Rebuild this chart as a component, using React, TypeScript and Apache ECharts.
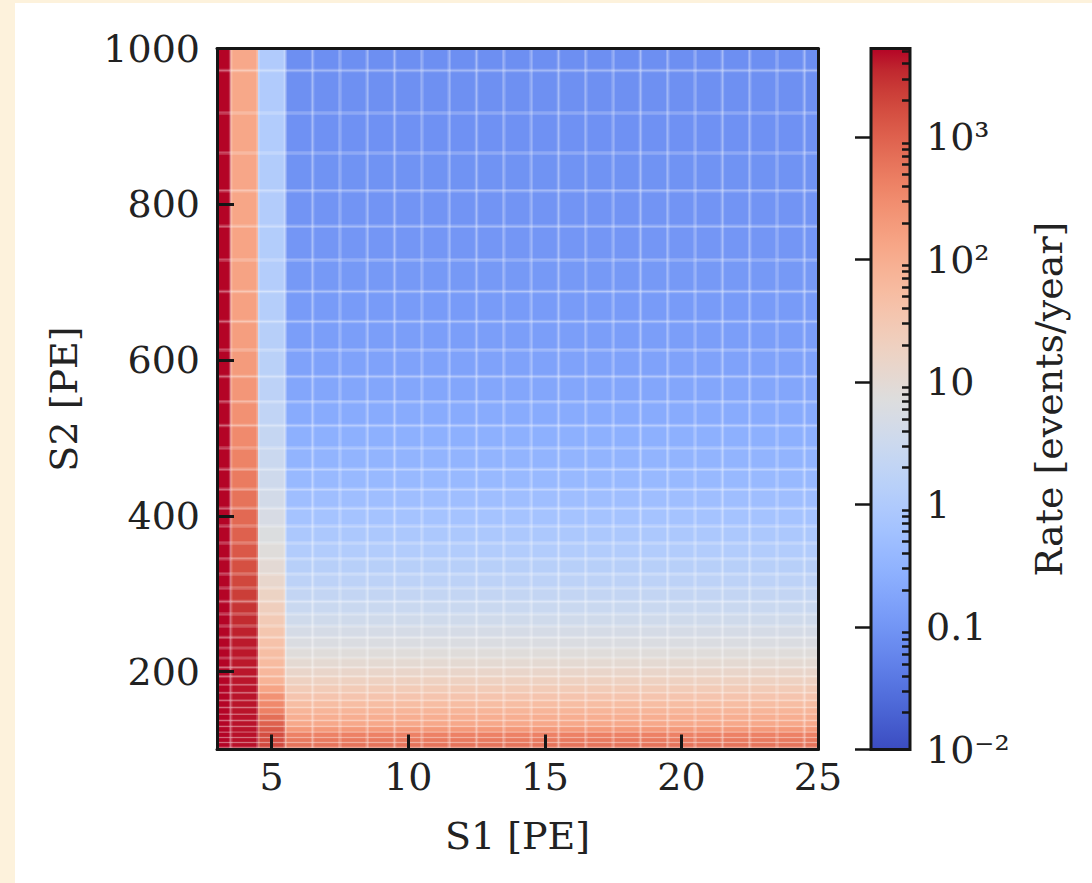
import React, { useEffect, useRef } from 'react';
import * as echarts from 'echarts';

// ---------------- data ----------------
const s1Centers = [3, 4, 5, 6, 7, 8, 9, 10, 11, 12, 13, 14, 15, 16, 17, 18, 19, 20, 21, 22, 23, 24, 25];

const s2Centers = [
  100, 105.93, 112.2, 118.85, 125.89, 133.35, 141.25, 149.62, 158.49, 167.88,
  177.83, 188.36, 199.53, 211.35, 223.87, 237.14, 251.19, 266.07, 281.84, 298.54,
  316.23, 334.97, 354.81, 375.84, 398.11, 421.7, 446.68, 473.15, 501.19, 530.88,
  562.34, 595.66, 630.96, 668.34, 707.95, 749.89, 794.33, 841.4, 891.25, 944.06, 1000,
];

// rate [events/year] per S2 row (bottom -> top) for each S1 column
const rateS1_3 = [
  9400, 9300, 9100, 9000, 8900, 8700, 8600, 8500, 8300, 8200,
  8100, 8000, 7900, 7700, 7600, 7500, 7400, 7300, 7200, 7100,
  7000, 6900, 6800, 6700, 6600, 6500, 6400, 6300, 6300, 6200,
  6100, 6000, 6000, 5900, 5900, 5800, 5800, 5700, 5700, 5600, 5600,
];
const rateS1_4 = [
  4600, 4600, 4600, 4600, 4500, 4500, 4500, 4400, 4400, 4400,
  4400, 4300, 4300, 4200, 4200, 4100, 3800, 3300, 2800, 2300,
  1900, 1550, 1250, 1000, 800, 630, 500, 400, 320, 260,
  220, 190, 170, 155, 145, 137, 132, 128, 125, 122, 120,
];
const rateS1_5 = [
  1800, 1800, 1700, 1600, 1300, 1000, 700, 420, 330, 250,
  140, 80, 66, 58, 50, 42, 35, 28, 22, 17,
  13, 10, 8.2, 6.6, 5.3, 4.3, 3.5, 2.9, 2.4, 2.0,
  1.7, 1.5, 1.35, 1.25, 1.2, 1.15, 1.12, 1.1, 1.08, 1.05, 1.05,
];
// columns S1 = 6 ... 25 share the same S2 profile
const rateS1_6to25 = [
  650, 600, 520, 420, 200, 120, 95, 72, 52, 37,
  27, 19, 14, 10.5, 8, 6.2, 4.8, 3.7, 2.8, 2.2,
  1.7, 1.35, 1.08, 0.85, 0.66, 0.52, 0.41, 0.33, 0.27, 0.22,
  0.185, 0.16, 0.14, 0.125, 0.113, 0.104, 0.097, 0.092, 0.088, 0.085, 0.082,
];

const xTicks = [5, 10, 15, 20, 25];
const yTicks = [200, 400, 600, 800, 1000];
const cbMin = 0.01;
const cbMax = 5300;
const cbMajorTicks = [0.01, 0.1, 1, 10, 100, 1000];
const cbMajorLabels = ['10⁻²', '0.1', '1', '10', '10²', '10³'];
const cbMinorTicks = [
  0.02, 0.03, 0.04, 0.05, 0.06, 0.07, 0.08, 0.09,
  0.2, 0.3, 0.4, 0.5, 0.6, 0.7, 0.8, 0.9,
  2, 3, 4, 5, 6, 7, 8, 9,
  20, 30, 40, 50, 60, 70, 80, 90,
  200, 300, 400, 500, 600, 700, 800, 900,
  2000, 3000, 4000, 5000,
];

// matplotlib "coolwarm" colormap (33 evenly spaced stops)
const coolwarm = [
  [59, 76, 192], [68, 90, 204], [77, 104, 215], [87, 117, 225], [98, 130, 234],
  [108, 142, 241], [119, 154, 247], [130, 165, 251], [141, 176, 254], [152, 185, 255],
  [163, 194, 255], [174, 201, 253], [184, 208, 249], [194, 213, 244], [204, 217, 238],
  [213, 219, 230], [221, 221, 221], [229, 216, 209], [236, 211, 197], [241, 204, 185],
  [245, 196, 173], [247, 187, 160], [247, 177, 148], [247, 166, 135], [244, 154, 123],
  [241, 141, 111], [236, 127, 99], [229, 112, 88], [222, 96, 77], [213, 80, 66],
  [203, 62, 56], [192, 40, 47], [180, 4, 38],
];

// ---------------- helpers ----------------
const FONT = "'DejaVu Serif', serif";
const INK = '#222222';
const FRAME = '#161616';
const lgMin = Math.log10(cbMin);
const lgMax = Math.log10(cbMax);

function rgb(c: number[]) {
  return `rgb(${Math.round(c[0])},${Math.round(c[1])},${Math.round(c[2])})`;
}
function colorFor(v: number) {
  let t = (Math.log10(v) - lgMin) / (lgMax - lgMin);
  t = Math.max(0, Math.min(1, t)) * (coolwarm.length - 1);
  const i = Math.min(coolwarm.length - 2, Math.floor(t));
  const f = t - i;
  const a = coolwarm[i];
  const b = coolwarm[i + 1];
  return rgb([a[0] + (b[0] - a[0]) * f, a[1] + (b[1] - a[1]) * f, a[2] + (b[2] - a[2]) * f]);
}

function profileFor(s1: number) {
  if (s1 === 3) return rateS1_3;
  if (s1 === 4) return rateS1_4;
  if (s1 === 5) return rateS1_5;
  return rateS1_6to25;
}

// bin edges from centres
const s1Edges: number[] = [];
for (let i = 0; i <= s1Centers.length; i++) {
  if (i === 0) s1Edges.push(s1Centers[0] - (s1Centers[1] - s1Centers[0]) / 2);
  else if (i === s1Centers.length) s1Edges.push(s1Centers[i - 1] + (s1Centers[i - 1] - s1Centers[i - 2]) / 2);
  else s1Edges.push((s1Centers[i - 1] + s1Centers[i]) / 2);
}
const s2Edges: number[] = [];
for (let i = 0; i <= s2Centers.length; i++) {
  if (i === 0) s2Edges.push(s2Centers[0] / Math.sqrt(s2Centers[1] / s2Centers[0]));
  else if (i === s2Centers.length) {
    const n = s2Centers.length;
    s2Edges.push(s2Centers[n - 1] * Math.sqrt(s2Centers[n - 1] / s2Centers[n - 2]));
  } else s2Edges.push(Math.sqrt(s2Centers[i - 1] * s2Centers[i]));
}

const cellData: number[][] = [];
s1Centers.forEach((s1, i) => {
  const prof = profileFor(s1);
  s2Centers.forEach((s2, j) => {
    cellData.push([s1, s2, prof[j], s1Edges[i], s1Edges[i + 1], s2Edges[j], s2Edges[j + 1]]);
  });
});
const vSeamData = s1Edges.slice(1, -1).map((e) => [e, s2Centers[0]]);
const hSeamData = s2Edges.slice(1, -1).map((e, k) => [s1Centers[0], e, s2Edges[k]]);

const SEAM = 'rgba(255,255,255,0.21)';

function buildOption() {
  const stops = coolwarm.map((c, i) => ({ offset: i / (coolwarm.length - 1), color: rgb(c) }));
  const labelStyle = { fontFamily: FONT, fontSize: 38, color: INK };
  return {
    animation: false,
    backgroundColor: '#ffffff',
    grid: [
      { left: 202, top: 45.5, width: 601, height: 701 },
      { left: 856, top: 45.5, width: 39, height: 701 },
    ],
    xAxis: [
      {
        gridIndex: 0, type: 'value', min: 3, max: 25, position: 'bottom', z: 10,
        axisLine: { show: true, lineStyle: { color: FRAME, width: 3 } },
        axisTick: { show: true, inside: true, length: 15, customValues: xTicks, lineStyle: { color: FRAME, width: 3 } },
        axisLabel: { ...labelStyle, customValues: xTicks, margin: 8, formatter: (v: number) => String(v) },
        splitLine: { show: false },
        name: 'S1 [PE]', nameLocation: 'middle', nameGap: 67,
        nameTextStyle: labelStyle,
      },
      {
        gridIndex: 0, type: 'value', min: 3, max: 25, position: 'top', z: 10,
        axisLine: { show: true, lineStyle: { color: FRAME, width: 3 } },
        axisTick: { show: false }, axisLabel: { show: false }, splitLine: { show: false },
      },
      {
        gridIndex: 1, type: 'value', min: 0, max: 1, show: false,
      },
    ],
    yAxis: [
      {
        gridIndex: 0, type: 'value', min: 100, max: 1000, position: 'left', z: 10,
        axisLine: { show: true, lineStyle: { color: FRAME, width: 3 } },
        axisTick: { show: true, inside: true, length: 17, customValues: yTicks, lineStyle: { color: FRAME, width: 3 } },
        axisLabel: { ...labelStyle, customValues: yTicks, margin: 17, formatter: (v: number) => String(v) },
        splitLine: { show: false },
        name: 'S2 [PE]', nameLocation: 'middle', nameGap: 134,
        nameTextStyle: labelStyle,
      },
      {
        gridIndex: 0, type: 'value', min: 100, max: 1000, position: 'right', z: 10,
        axisLine: { show: true, lineStyle: { color: FRAME, width: 3 } },
        axisTick: { show: false }, axisLabel: { show: false }, splitLine: { show: false },
      },
      {
        gridIndex: 1, type: 'value', min: lgMin, max: lgMax, position: 'right', z: 10,
        axisLine: { show: false },
        axisTick: {
          show: true, inside: true, length: 16,
          customValues: cbMajorTicks.map((v) => Math.log10(v)),
          lineStyle: { color: FRAME, width: 2.5 },
        },
        axisLabel: {
          ...labelStyle, margin: 16,
          customValues: cbMajorTicks.map((v) => Math.log10(v)),
          formatter: (val: number) => {
            const idx = cbMajorTicks.findIndex((v) => Math.abs(Math.log10(v) - val) < 1e-6);
            return idx >= 0 ? cbMajorLabels[idx] : '';
          },
        },
        splitLine: { show: false },
        name: 'Rate [events/year]', nameLocation: 'middle', nameRotate: 90, nameGap: 120,
        nameTextStyle: labelStyle,
      },
      {
        gridIndex: 1, type: 'value', min: lgMin, max: lgMax, position: 'right', z: 10,
        axisLine: { show: false },
        axisTick: {
          show: true, inside: true, length: 8,
          customValues: cbMinorTicks.map((v) => Math.log10(v)),
          lineStyle: { color: FRAME, width: 2.5 },
        },
        axisLabel: { show: false },
        splitLine: { show: false },
      },
    ],
    series: [
      {
        type: 'custom', xAxisIndex: 0, yAxisIndex: 0, z: 2,
        data: cellData, encode: { x: 0, y: 1 },
        renderItem: (params: any, api: any) => {
          const p0 = api.coord([api.value(3), api.value(6)]);
          const p1 = api.coord([api.value(4), api.value(5)]);
          const cs = params.coordSys;
          const r = echarts.graphic.clipRectByRect(
            { x: p0[0], y: p0[1], width: p1[0] - p0[0], height: p1[1] - p0[1] },
            { x: cs.x, y: cs.y, width: cs.width, height: cs.height },
          );
          if (!r) return null;
          return { type: 'rect', shape: r, style: { fill: colorFor(api.value(2)) } };
        },
      },
      {
        type: 'custom', xAxisIndex: 0, yAxisIndex: 0, z: 3,
        data: vSeamData, encode: { x: 0, y: 1 },
        renderItem: (params: any, api: any) => {
          const cs = params.coordSys;
          const x = api.coord([api.value(0), api.value(1)])[0];
          return { type: 'line', shape: { x1: x, y1: cs.y, x2: x, y2: cs.y + cs.height }, style: { stroke: SEAM, lineWidth: 3.5 } };
        },
      },
      {
        type: 'custom', xAxisIndex: 0, yAxisIndex: 0, z: 3,
        data: hSeamData, encode: { x: 0, y: 1 },
        renderItem: (params: any, api: any) => {
          const cs = params.coordSys;
          const y = api.coord([api.value(0), api.value(1)])[1];
          const yPrev = api.coord([api.value(0), api.value(2)])[1];
          const w = Math.min(3.5, Math.abs(yPrev - y) * 0.3);
          return { type: 'line', shape: { x1: cs.x, y1: y, x2: cs.x + cs.width, y2: y }, style: { stroke: SEAM, lineWidth: w } };
        },
      },
      {
        type: 'custom', xAxisIndex: 2, yAxisIndex: 2, z: 2,
        data: [[0, lgMin]], encode: { x: 0, y: 1 },
        renderItem: (params: any, api: any) => {
          const p0 = api.coord([0, lgMax]);
          const p1 = api.coord([1, lgMin]);
          return {
            type: 'rect',
            shape: { x: p0[0], y: p0[1], width: p1[0] - p0[0], height: p1[1] - p0[1] },
            style: { fill: new echarts.graphic.LinearGradient(0, 1, 0, 0, stops), stroke: FRAME, lineWidth: 3 },
          };
        },
      },
    ],
  };
}

export default function App() {
  const ref = useRef<HTMLDivElement>(null);
  useEffect(() => {
    if (!ref.current) return;
    const chart = echarts.init(ref.current, null, { renderer: 'svg' });
    chart.setOption(buildOption() as any);
    return () => chart.dispose();
  }, []);
  return (
    <div style={{ position: 'fixed', left: 0, top: 0, width: 1092, height: 883, background: '#fdf2dc', overflow: 'hidden' }}>
      <div ref={ref} style={{ position: 'absolute', left: 15, top: 3, width: 1077, height: 880, background: '#ffffff' }} />
    </div>
  );
}
